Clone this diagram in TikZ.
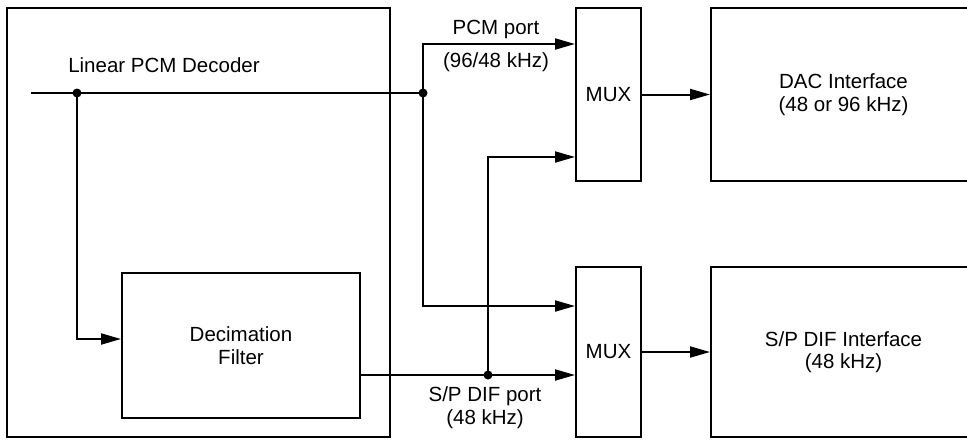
\documentclass[tikz,border=0pt]{standalone}
\usepackage{fontspec}
\setmainfont{Liberation Sans}
\usetikzlibrary{arrows.meta}
\tikzset{
  blk/.style={draw, line width=2pt, inner sep=0pt, align=center, font=\fontsize{20.5}{22.5}\selectfont},
  lbl/.style={inner sep=0pt, align=center, font=\fontsize{20.5}{23.5}\selectfont},
  wire/.style={line width=2pt},
  arr/.style={wire, -{Triangle[length=20pt,width=11pt]}},
}
\begin{document}
\begin{tikzpicture}[x=1pt,y=-1pt]
\clip (0,0) rectangle (967,440);
\fill[white] (0,0) rectangle (967,440);
% blocks
\node[blk, minimum width=383pt, minimum height=429pt] (dec) at (198.5,222.5) {};
\node[lbl] (declbl) at (164,65.5) {Linear PCM Decoder};
\node[blk, minimum width=238pt, minimum height=145pt] (decim) at (241,345.5) {Decimation\\Filter};
\node[blk, minimum width=65pt, minimum height=173pt] (mux1) at (608.5,94.5) {MUX};
\node[blk, minimum width=65pt, minimum height=170pt] (mux2) at (608.5,352) {MUX};
\node[blk, minimum width=265pt, minimum height=173pt] (dac) at (843.5,94.5) {DAC Interface\\(48 or 96 kHz)};
\node[blk, minimum width=265pt, minimum height=170pt] (spdif) at (843.5,352) {S/P DIF Interface\\(48 kHz)};
% labels
\node[lbl] (pcm) at (496,29) {PCM port};
\node[lbl] (pcmr) at (496,62.5) {(96/48 kHz)};
\node[lbl] (spd) at (485,407.5) {S/P DIF port\\(48 kHz)};
% junctions
\coordinate (in) at (31,93);
\coordinate (j1) at (77,93);
\coordinate (j2) at (423,93);
\coordinate (j3) at (488,375);
% connectors
\draw[wire] (in) -- (j2);
\draw[arr] (j1) |- ([yshift=6.5pt]decim.west);
\draw[arr] (j2) |- ([yshift=50.5pt]mux1.west);
\draw[arr] (j2) |- ([yshift=46pt]mux2.west);
\draw[arr] ([yshift=-29.5pt]decim.east) -- ([yshift=-23pt]mux2.west);
\draw[arr] (j3) |- ([yshift=-62.5pt]mux1.west);
\draw[arr] (mux1.east) -- (dac.west);
\draw[arr] (mux2.east) -- (spdif.west);
% dots
\fill (j1) circle (4.5pt);
\fill (j2) circle (4.5pt);
\fill (j3) circle (4.5pt);
\end{tikzpicture}
\end{document}
